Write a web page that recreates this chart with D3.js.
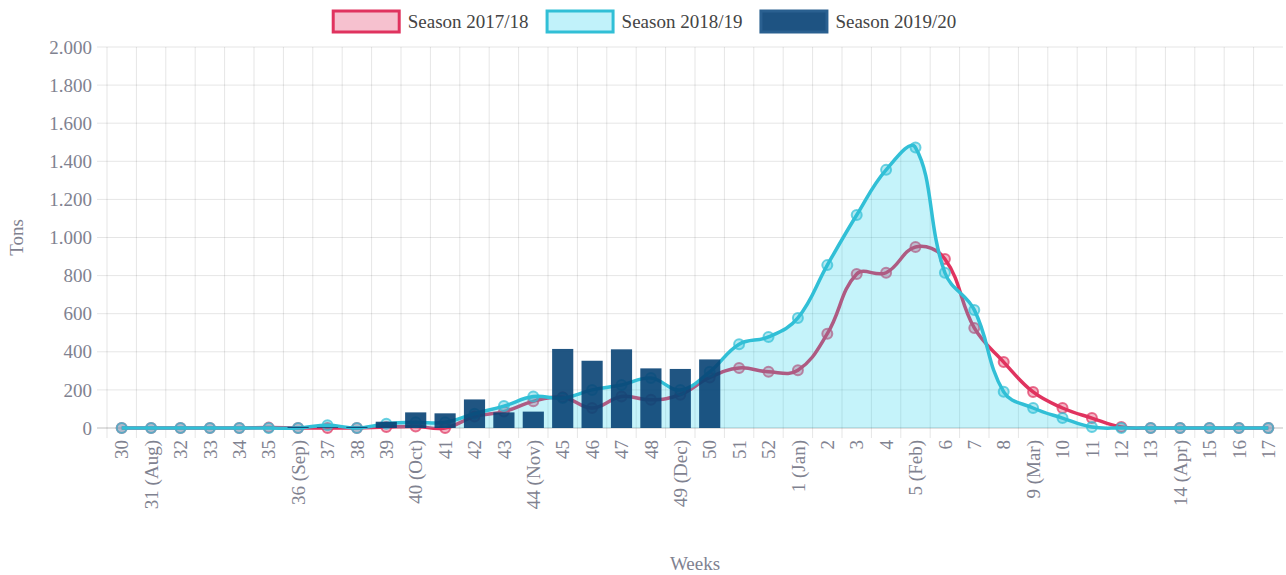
<!DOCTYPE html>
<html><head><meta charset="utf-8">
<script src="https://cdn.jsdelivr.net/npm/d3@7"></script>
<style>
body{margin:0;background:#fff}
svg{display:block}
text{font-family:"Liberation Serif","Times New Roman",serif}
</style>
</head><body>
<svg id="chart" width="1286" height="575"></svg>
<script>
// ---------- DATA ----------
const weeks = ["30","31 (Aug)","32","33","34","35","36 (Sep)","37","38","39","40 (Oct)","41","42","43","44 (Nov)","45","46","47","48","49 (Dec)","50","51","52","1 (Jan)","2","3","4","5 (Feb)","6","7","8","9 (Mar)","10","11","12","13","14 (Apr)","15","16","17"];
const season1718 = [0,0,0,0,0,2,0,0,0,5,8,0,60,86,140,162,105,165,148,175,265,315,295,303,495,808,815,950,887,525,346,189,105,52,5,0,0,0,0,0];
const season1819 = [0,0,0,0,0,0,0,15,0,22,30,30,75,115,165,157,200,226,262,200,295,440,478,578,855,1118,1355,1472,815,620,190,105,52,5,0,0,0,0,0,0];
const season1920 = [null,null,null,null,null,null,6,4,6,33,82,77,150,82,86,415,353,413,313,310,360,null,null,null,null,null,null,null,null,null,null,null,null,null,null,null,null,null,null,null];
const yTicks = [0,200,400,600,800,1000,1200,1400,1600,1800,2000];
const seriesNames = ["Season 2017/18","Season 2018/19","Season 2019/20"];
const axisTitles = {x:"Weeks", y:"Tons"};

// ---------- STYLE ----------
const W = 1286, H = 575;
const M = {left:107, right:1283, top:47, bottom:428};
const redC = "#e0335f", cyanC = "#31bfd6", blueC = "rgba(8,66,116,0.9)";
const tickColor = "#7f8290";
const fontSize = 19;

const svg = d3.select("#chart");

const x = d3.scaleBand().domain(weeks).range([M.left, M.right]).paddingInner(0).paddingOuter(0);
const y = d3.scaleLinear().domain([0,2000]).range([M.bottom, M.top]);
const loc = d3.formatLocale({decimal:",", thousands:".", grouping:[3], currency:["",""]});
const fmt = loc.format(",");

// ---------- GRID ----------
const grid = svg.append("g");
const bounds = weeks.map(w => x(w));
grid.selectAll("line.v").data(bounds).join("line")
  .attr("x1", d=>d).attr("x2", d=>d).attr("y1", M.top).attr("y2", M.bottom+10)
  .attr("stroke", "rgba(0,0,0,0.1)").attr("stroke-width",1);
grid.selectAll("line.h").data(yTicks).join("line")
  .attr("x1", M.left-10).attr("x2", M.right).attr("y1", d=>y(d)).attr("y2", d=>y(d))
  .attr("stroke", d => d===0 ? "rgba(0,0,0,0.25)" : "rgba(0,0,0,0.1)").attr("stroke-width",1);

// ---------- Y axis labels ----------
svg.append("g").selectAll("text").data(yTicks).join("text")
  .attr("x", M.left-15).attr("y", d=>y(d)).attr("dy","0.35em")
  .attr("text-anchor","end").attr("fill",tickColor).attr("font-size",fontSize)
  .text(d=>fmt(d));

// ---------- X axis labels ----------
svg.append("g").selectAll("text").data(weeks).join("text")
  .attr("transform", d => `translate(${x(d)+x.bandwidth()/2},${M.bottom+12}) rotate(-90)`)
  .attr("text-anchor","end").attr("dy","0.35em")
  .attr("fill",tickColor).attr("font-size",fontSize)
  .text(d=>d);

// axis titles
svg.append("text").attr("x", (M.left+M.right)/2).attr("y", 570)
  .attr("text-anchor","middle").attr("fill",tickColor).attr("font-size",fontSize).text(axisTitles.x);
svg.append("text").attr("transform", `translate(23,${(M.top+M.bottom)/2}) rotate(-90)`)
  .attr("text-anchor","middle").attr("fill",tickColor).attr("font-size",fontSize).text(axisTitles.y);

// ---------- spline (Chart.js-like, tension 0.4) ----------
function splinePath(pts, t){
  const n = pts.length, cps = [];
  for (let i=0;i<n;i++){
    const p = pts[i-1]||pts[i], c = pts[i], nx = pts[i+1]||pts[i];
    const d01 = Math.hypot(c[0]-p[0], c[1]-p[1]);
    const d12 = Math.hypot(nx[0]-c[0], nx[1]-c[1]);
    let s01 = d01/(d01+d12), s12 = d12/(d01+d12);
    if (!isFinite(s01)) s01 = 0; if (!isFinite(s12)) s12 = 0;
    const fa = t*s01, fb = t*s12;
    cps.push({prev:[c[0]-fa*(nx[0]-p[0]), c[1]-fa*(nx[1]-p[1])],
              next:[c[0]+fb*(nx[0]-p[0]), c[1]+fb*(nx[1]-p[1])]});
  }
  let d = `M${pts[0][0]},${pts[0][1]}`;
  for (let i=1;i<n;i++){
    d += `C${cps[i-1].next[0]},${cps[i-1].next[1]},${cps[i].prev[0]},${cps[i].prev[1]},${pts[i][0]},${pts[i][1]}`;
  }
  return d;
}
const cx = w => x(w) + x.bandwidth()/2;
const ptsOf = arr => weeks.map((w,i)=>[cx(w), y(arr[i])]);

// ---------- Season 2017/18 (red line, drawn first) ----------
const p1 = ptsOf(season1718);
svg.append("path").attr("d", splinePath(p1,0.4)).attr("fill","none")
  .attr("stroke",redC).attr("stroke-width",3.5);
svg.append("g").selectAll("circle").data(p1).join("circle")
  .attr("cx",d=>d[0]).attr("cy",d=>d[1]).attr("r",5)
  .attr("fill","rgba(224,51,95,0.35)").attr("stroke","rgba(224,51,95,0.7)").attr("stroke-width",2);

// ---------- Season 2018/19 (cyan, filled) ----------
const p2 = ptsOf(season1819);
svg.append("path")
  .attr("d", splinePath(p2,0.4) + `L${p2[p2.length-1][0]},${y(0)}L${p2[0][0]},${y(0)}Z`)
  .attr("fill","rgba(32,210,236,0.26)").attr("stroke","none");
svg.append("path").attr("d", splinePath(p2,0.4)).attr("fill","none")
  .attr("stroke",cyanC).attr("stroke-width",3.5);
svg.append("g").selectAll("circle").data(p2).join("circle")
  .attr("cx",d=>d[0]).attr("cy",d=>d[1]).attr("r",5)
  .attr("fill","rgba(49,191,214,0.35)").attr("stroke","rgba(49,191,214,0.7)").attr("stroke-width",2);

// ---------- Season 2019/20 (bars) ----------
const bw = x.bandwidth()*0.72;
svg.append("g").selectAll("rect").data(weeks.map((w,i)=>({w, v:season1920[i]})).filter(d=>d.v!=null)).join("rect")
  .attr("x", d=>cx(d.w)-bw/2).attr("width", bw)
  .attr("y", d=>y(d.v)).attr("height", d=>y(0)-y(d.v))
  .attr("fill", blueC);

// ---------- Legend ----------
const legendItems = [
  {name:seriesNames[0], fill:"rgba(224,51,95,0.3)", stroke:redC},
  {name:seriesNames[1], fill:"rgba(32,210,236,0.28)", stroke:cyanC},
  {name:seriesNames[2], fill:"#1e5382", stroke:"#2a6090"}
];
const boxW = 69, boxH = 21, gapBT = 7, gapItems = 17;
const lg = svg.append("g");
const items = lg.selectAll("g").data(legendItems).join("g");
items.append("rect").attr("x",1.5).attr("y",11).attr("width",boxW-3).attr("height",boxH)
  .attr("fill",d=>d.fill).attr("stroke",d=>d.stroke).attr("stroke-width",3);
items.append("text").attr("x",boxW+gapBT).attr("y",21).attr("dy","0.35em")
  .attr("fill","#444").attr("font-size",fontSize).text(d=>d.name);
let widths = [];
items.each(function(){ widths.push(boxW+gapBT+this.querySelector("text").getComputedTextLength()); });
const total = d3.sum(widths) + gapItems*(widths.length-1);
let cur = W/2 + 1 - total/2;
items.attr("transform",(d,i)=>{ const t = `translate(${cur},0)`; cur += widths[i]+gapItems; return t; });
</script>
</body></html>
